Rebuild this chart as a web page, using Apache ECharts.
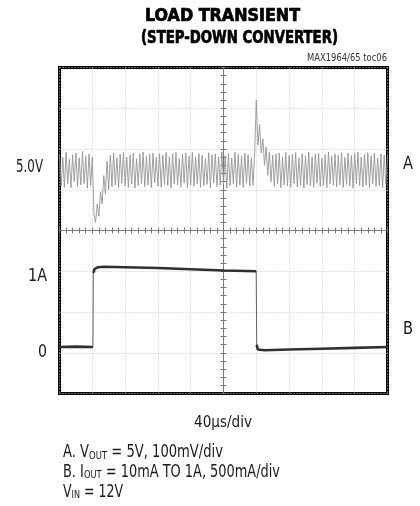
<!DOCTYPE html>
<html><head><meta charset="utf-8">
<script src="https://cdn.jsdelivr.net/npm/echarts@6/dist/echarts.min.js"></script>
<style>html,body{margin:0;padding:0;background:#fff}#c{width:420px;height:506px}</style>
</head><body><div id="c"></div>
<script>
// ---- data ----
const timeDivUs = 40;           // 40 µs/div, 10 divisions
const voltStepUs = 2;           // trace A sample spacing (µs)
// Trace A: deviation of VOUT from 5.0V, in mV (100mV/div)
const voltDevMv = [
  38,-40,30,-44,42,-36,25,-45,36,-30,40,-42,28,-38,44,-35,32,-46,38,-40,
  30,-110,-130,-85,-115,-55,-85,-15,-60,20,-50,
  35,-42,40,-38,28,-45,38,-34,42,-40,
  30,-44,36,-36,40,-46,26,-40,38,-35,
  43,-42,32,-38,37,-45,40,-33,29,-41,
  39,-44,35,-37,42,-40,31,-46,38,-36,
  41,-39,27,-43,37,-34,40,-45,33,-38,
  42,-41,30,-36,39,-44,35,-40,26,-37,
  41,-45,36,-33,38,-42,31,-39,43,-36,
  34,-46,39,-40,28,-35,42,-43,37,-38,
  32,-44,40,-34,36,-41,29,-39,41,
  170,60,110,40,75,10,55,-15,42,-30,35,
  -42,38,-36,40,-45,30,-38,42,-40,34,
  -44,37,-35,41,-43,28,-39,39,-46,33,
  -37,42,-41,31,-44,38,-34,40,-42,27,
  -40,36,-45,43,-36,32,-39,38,-43,35,
  -38,41,-44,29,-37,40,-41,34,-46,39,
  -35,42,-40,30,-43,37,-38,41,-44,33,
  -36,40,-42,28,-39,38,-45,35,-37,36
];
// Trace B: IOUT (A), 500mA/div
const currentT = [0, 20, 40.8, 41.2, 43, 47, 55, 80, 120, 160, 200, 239.9, 240.5, 241.8, 244, 250, 280, 320, 360, 400];
const currentA = [0.07, 0.075, 0.07, 0.98, 1.03, 1.05, 1.055, 1.05, 1.04, 1.025, 1.01, 1.0, 0.1, 0.04, 0.02, 0.03, 0.04, 0.05, 0.06, 0.07];

const titleLines = ['LOAD TRANSIENT', '(STEP-DOWN CONVERTER)'];
const tocText = 'MAX1964/65 toc06';
const leftLabels = ['5.0V', '1A', '0'];
const rightLabels = ['A', 'B'];
const timeText = '40\u00B5s/div';

// ---- helpers ----
const FAM = '"Liberation Sans Narrow", "DejaVu Sans Condensed", "Liberation Sans", sans-serif';
const ctx = document.createElement('canvas').getContext('2d');
function tw(text, size, weight) {
  ctx.font = (weight || 'normal') + ' ' + size + 'px ' + FAM;
  return ctx.measureText(text).width;
}
function label(text, x, y, size, targetW, align, weight, color, stroke) {
  const sx = targetW ? targetW / tw(text, size, weight) : 1;
  const st = { text: text, fontSize: size, fontFamily: FAM, fontWeight: weight || 'normal',
      fill: color || '#1a1a1a', align: align, verticalAlign: 'middle' };
  if (stroke) { st.stroke = color || '#000'; st.lineWidth = stroke; }
  return { type: 'text', x: x, y: y, scaleX: sx, z: 20, style: st };
}
function subLine(parts, x, y, targetW) {
  let w = 0, str = '';
  parts.forEach(p => { w += tw(p[0], p[1] ? 11 : 17); str += '{' + (p[1] ? 's' : 'n') + '|' + p[0] + '}'; });
  return { type: 'text', x: x, y: y, scaleX: targetW / w, z: 20,
    style: { text: str, fontFamily: FAM, fill: '#1a1a1a', align: 'left', verticalAlign: 'middle',
      rich: { n: { fontSize: 17, fontFamily: FAM, fill: '#1a1a1a', lineHeight: 20, verticalAlign: 'bottom' },
              s: { fontSize: 11, fontFamily: FAM, fill: '#1a1a1a', lineHeight: 11, verticalAlign: 'bottom' } } } };
}

// ---- series data ----
const voltData = voltDevMv.map((v, i) => [i * voltStepUs, v]);
const curThin = currentT.map((t, i) => [t, currentA[i]]);
const curThick = [];
currentT.forEach((t, i) => {
  if (i > 0 && Math.abs(currentA[i] - currentA[i - 1]) > 0.5) curThick.push([(t + currentT[i - 1]) / 2, null]);
  curThick.push([t, currentA[i]]);
});

const centerLine = { color: '#7a7a7a', width: 1 };
function centerAxis(isX, inside) {
  return {
    type: 'value', min: isX ? -5 : -4, max: isX ? 5 : 4, interval: 1,
    position: isX ? 'bottom' : 'left',
    axisLine: { show: true, onZero: true, onZeroAxisIndex: isX ? 2 : 1, lineStyle: centerLine },
    axisTick: { show: true, inside: inside, length: 3, lineStyle: centerLine },
    minorTick: { show: true, splitNumber: 5, length: 3, lineStyle: centerLine },
    axisLabel: { show: false }, splitLine: { show: false }
  };
}
const dotted = { color: '#c6c6c6', width: 1, type: [1, 2] };

const chart = echarts.init(document.getElementById('c'), null, { renderer: 'canvas' });
chart.setOption({
  animation: false,
  backgroundColor: '#fff',
  grid: { left: 59.5, top: 67.5, width: 328, height: 326, show: true, borderColor: '#000', borderWidth: 3, backgroundColor: 'transparent' },
  xAxis: [
    { type: 'value', min: 0, max: timeDivUs * 10, interval: timeDivUs,
      axisLine: { show: false, onZero: false }, axisTick: { show: false }, axisLabel: { show: false },
      splitLine: { show: true, lineStyle: dotted } },
    centerAxis(true, false),
    centerAxis(true, true)
  ],
  yAxis: [
    { type: 'value', min: -0.5, max: 3.5, interval: 0.5,
      axisLine: { show: false, onZero: false }, axisTick: { show: false }, axisLabel: { show: false },
      splitLine: { show: true, lineStyle: dotted } },
    { type: 'value', min: -550, max: 250, show: false, axisLine: { onZero: false }, splitLine: { show: false } },
    centerAxis(false, false),
    centerAxis(false, true)
  ],
  series: [
    { type: 'line', xAxisIndex: 0, yAxisIndex: 1, data: voltData, showSymbol: false, z: 3,
      lineStyle: { color: '#959595', width: 0.9 } },
    { type: 'line', xAxisIndex: 0, yAxisIndex: 0, data: curThin, showSymbol: false, z: 4,
      lineStyle: { color: '#606060', width: 1 } },
    { type: 'line', xAxisIndex: 0, yAxisIndex: 0, data: curThick, showSymbol: false, z: 5, connectNulls: false,
      lineStyle: { color: '#303030', width: 2.6 } }
  ],
  graphic: { elements: [
    label(titleLines[0], 222.5, 16.5, 18, 155, 'center', 'bold', '#000', 0.7),
    label(titleLines[1], 239.5, 38.5, 18, 197, 'center', 'bold', '#000', 0.7),
    label(tocText, 387, 58, 10, 80, 'right', 'normal', '#333'),
    label(leftLabels[0], 43, 168, 17, 27, 'right'),
    label(leftLabels[1], 47, 277, 17, 19, 'right'),
    label(leftLabels[2], 47, 353, 17, 9, 'right'),
    label(rightLabels[0], 408, 165, 17, 10, 'center'),
    label(rightLabels[1], 408, 330, 17, 10, 'center'),
    label(timeText, 223, 423, 16, 58, 'center'),
    subLine([['A. V', 0], ['OUT', 1], [' = 5V, 100mV/div', 0]], 63, 451.5, 160),
    subLine([['B. I', 0], ['OUT', 1], [' = 10mA TO 1A, 500mA/div', 0]], 63, 471, 217),
    subLine([['V', 0], ['IN', 1], [' = 12V', 0]], 63, 491, 60)
  ] }
});
</script>
</body></html>
